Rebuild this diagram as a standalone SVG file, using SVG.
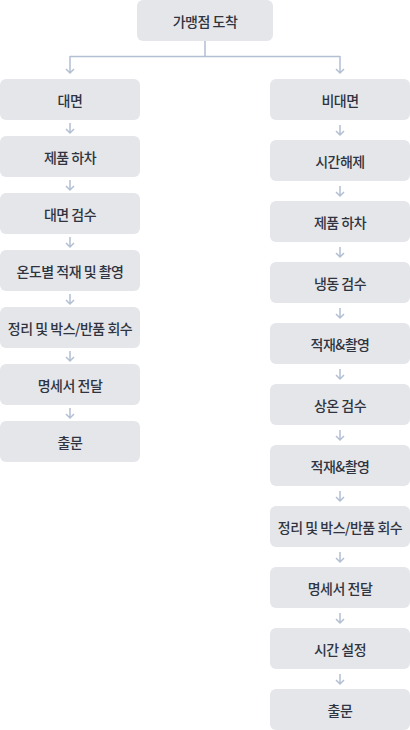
<svg xmlns="http://www.w3.org/2000/svg" width="410" height="730" viewBox="0 0 410 730">
<style>
.b{fill:#e4e6ea}
.t{font-family:"Noto Sans CJK KR","Noto Sans",sans-serif;font-size:14px;font-weight:500;letter-spacing:-0.5px;fill:#2f3440;text-anchor:middle;dominant-baseline:central}
.c{fill:none;stroke:#b3bfd3;stroke-width:1.5}
</style>
<rect width="410" height="730" fill="#fff"/>
<g id="connectors" class="c">
<path d="M205 40V56.5M70 56.5H340M70 56V73M66 69L70 73L74 69M340 56V73M336 69L340 73L344 69"/>
<path d="M70 123V133M66 129L70 133L74 129"/>
<path d="M70 180V190M66 186L70 190L74 186"/>
<path d="M70 237V247M66 243L70 247L74 243"/>
<path d="M70 294V304M66 300L70 304L74 300"/>
<path d="M70 351V361M66 357L70 361L74 357"/>
<path d="M70 408V418M66 414L70 418L74 414"/>
<path d="M340 125V135M336 131L340 135L344 131"/>
<path d="M340 186V196M336 192L340 196L344 192"/>
<path d="M340 247V257M336 253L340 257L344 253"/>
<path d="M340 308V318M336 314L340 318L344 314"/>
<path d="M340 369V379M336 375L340 379L344 375"/>
<path d="M340 430V440M336 436L340 440L344 436"/>
<path d="M340 491V501M336 497L340 501L344 497"/>
<path d="M340 552V562M336 558L340 562L344 558"/>
<path d="M340 613V623M336 619L340 623L344 619"/>
<path d="M340 674V684M336 680L340 684L344 680"/>
</g>
<g id="n0"><rect class="b" x="137" y="0" width="136" height="41" rx="6"/><text class="t" x="205" y="20.5">가맹점 도착</text></g>
<g id="l1"><rect class="b" x="0" y="79" width="140" height="41" rx="6"/><text class="t" x="70" y="99.5">대면</text></g>
<g id="l2"><rect class="b" x="0" y="136" width="140" height="41" rx="6"/><text class="t" x="70" y="156.5">제품 하차</text></g>
<g id="l3"><rect class="b" x="0" y="193" width="140" height="41" rx="6"/><text class="t" x="70" y="213.5">대면 검수</text></g>
<g id="l4"><rect class="b" x="0" y="250" width="140" height="41" rx="6"/><text class="t" x="70" y="270.5">온도별 적재 및 촬영</text></g>
<g id="l5"><rect class="b" x="0" y="307" width="140" height="41" rx="6"/><text class="t" x="70" y="327.5">정리 및 박스/반품 회수</text></g>
<g id="l6"><rect class="b" x="0" y="364" width="140" height="41" rx="6"/><text class="t" x="70" y="384.5">명세서 전달</text></g>
<g id="l7"><rect class="b" x="0" y="421" width="140" height="41" rx="6"/><text class="t" x="70" y="441.5">출문</text></g>
<g id="r1"><rect class="b" x="270" y="79" width="140" height="41" rx="6"/><text class="t" x="340" y="99.5">비대면</text></g>
<g id="r2"><rect class="b" x="270" y="140" width="140" height="41" rx="6"/><text class="t" x="340" y="160.5">시간해제</text></g>
<g id="r3"><rect class="b" x="270" y="201" width="140" height="41" rx="6"/><text class="t" x="340" y="221.5">제품 하차</text></g>
<g id="r4"><rect class="b" x="270" y="262" width="140" height="41" rx="6"/><text class="t" x="340" y="282.5">냉동 검수</text></g>
<g id="r5"><rect class="b" x="270" y="323" width="140" height="41" rx="6"/><text class="t" x="340" y="343.5">적재&amp;촬영</text></g>
<g id="r6"><rect class="b" x="270" y="384" width="140" height="41" rx="6"/><text class="t" x="340" y="404.5">상온 검수</text></g>
<g id="r7"><rect class="b" x="270" y="445" width="140" height="41" rx="6"/><text class="t" x="340" y="465.5">적재&amp;촬영</text></g>
<g id="r8"><rect class="b" x="270" y="506" width="140" height="41" rx="6"/><text class="t" x="340" y="526.5">정리 및 박스/반품 회수</text></g>
<g id="r9"><rect class="b" x="270" y="567" width="140" height="41" rx="6"/><text class="t" x="340" y="587.5">명세서 전달</text></g>
<g id="r10"><rect class="b" x="270" y="628" width="140" height="41" rx="6"/><text class="t" x="340" y="648.5">시간 설정</text></g>
<g id="r11"><rect class="b" x="270" y="689" width="140" height="41" rx="6"/><text class="t" x="340" y="709.5">출문</text></g>
</svg>
